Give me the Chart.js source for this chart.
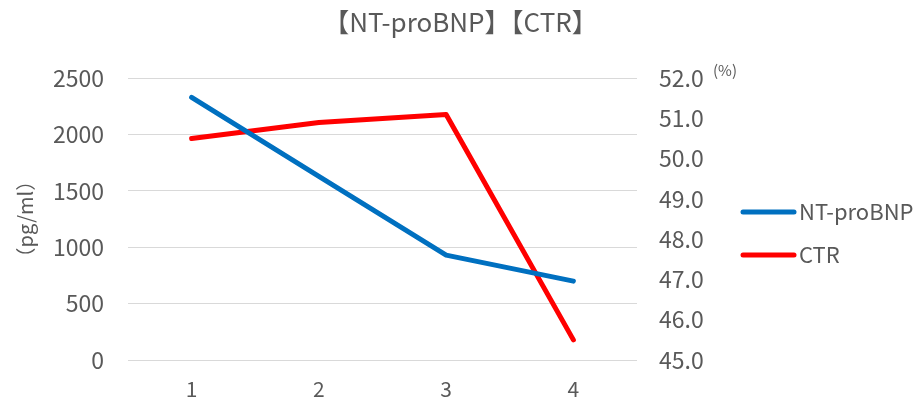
<!DOCTYPE html>
<html>
<head>
<meta charset="utf-8">
<script src="https://cdn.jsdelivr.net/npm/chart.js@4"></script>
<style>
  html, body { margin: 0; padding: 0; background: #fff; }
  #wrap { width: 921px; height: 399px; }
</style>
</head>
<body>
<div id="wrap"><canvas id="chart" width="921" height="399"></canvas></div>
<script>
// ---- data ----
const categories = ['1', '2', '3', '4'];
const ntProBNP = [2330, 1630, 930, 700];   // pg/ml, left axis
const ctr = [50.5, 50.9, 51.1, 45.5];      // %, right axis

const leftRange = { min: 0, max: 2500, step: 500 };
const rightRange = { min: 45, max: 52, step: 1 };

const FONT = '"Noto Sans CJK JP", "Noto Sans", sans-serif';
const GREY = '#595959';

// legend + "(%)" unit drawn beside the right axis
const sideLegend = {
  id: 'sideLegend',
  afterDraw(chart) {
    const ctx = chart.ctx;
    ctx.save();
    ctx.fillStyle = GREY;
    ctx.font = '15px ' + FONT;
    ctx.textBaseline = 'middle';
    ctx.textAlign = 'left';
    ctx.fillText('(%)', 713, 70);

    const rows = [212, 255];
    chart.data.datasets.forEach((ds, i) => {
      const y = rows[i];
      ctx.strokeStyle = ds.borderColor;
      ctx.lineWidth = 5;
      ctx.lineCap = 'round';
      ctx.beginPath();
      ctx.moveTo(743, y);
      ctx.lineTo(794, y);
      ctx.stroke();
      ctx.fillStyle = GREY;
      ctx.font = '22px ' + FONT;
      ctx.fillText(ds.label, 799, y);
    });
    ctx.restore();
  }
};

new Chart(document.getElementById('chart'), {
  type: 'line',
  data: {
    labels: categories,
    datasets: [
      {
        label: 'NT-proBNP',
        data: ntProBNP,
        yAxisID: 'y',
        borderColor: '#0070C0',
        backgroundColor: '#0070C0',
        borderWidth: 5,
        borderCapStyle: 'round',
        borderJoinStyle: 'round',
        pointRadius: 0,
        tension: 0
      },
      {
        label: 'CTR',
        data: ctr,
        yAxisID: 'y1',
        borderColor: '#FF0000',
        backgroundColor: '#FF0000',
        borderWidth: 5,
        borderCapStyle: 'round',
        borderJoinStyle: 'round',
        pointRadius: 0,
        tension: 0
      }
    ]
  },
  options: {
    responsive: false,
    animation: false,
    layout: { padding: 0 },
    plugins: {
      legend: { display: false },
      tooltip: { enabled: false },
      title: {
        display: true,
        text: '【NT-proBNP】【CTR】',
        color: GREY,
        font: { family: FONT, size: 26, weight: 'normal', lineHeight: 1.2 },
        padding: { top: 7, bottom: 40 }
      }
    },
    scales: {
      x: {
        offset: true,
        grid: { display: false },
        border: { display: false },
        ticks: { color: GREY, font: { family: FONT, size: 21 }, padding: 8 },
        afterFit(s) { s.height = 39; }
      },
      y: {
        position: 'left',
        min: leftRange.min,
        max: leftRange.max,
        ticks: {
          stepSize: leftRange.step,
          color: GREY,
          font: { family: FONT, size: 23 },
          padding: 24,
          callback: v => String(v)
        },
        grid: { color: '#d9d9d9', lineWidth: 1, drawTicks: false },
        border: { display: false },
        title: {
          display: true,
          text: '（pg/ml）',
          color: GREY,
          font: { family: FONT, size: 20 },
          padding: { top: 13, bottom: 0 }
        },
        afterFit(s) { s.width = 128; }
      },
      y1: {
        position: 'right',
        min: rightRange.min,
        max: rightRange.max,
        ticks: {
          stepSize: rightRange.step,
          color: GREY,
          font: { family: FONT, size: 23 },
          padding: 22,
          callback: v => Number(v).toFixed(1)
        },
        grid: { display: false, drawTicks: false },
        border: { display: false },
        afterFit(s) { s.width = 284; }
      }
    }
  },
  plugins: [sideLegend]
});
</script>
</body>
</html>
